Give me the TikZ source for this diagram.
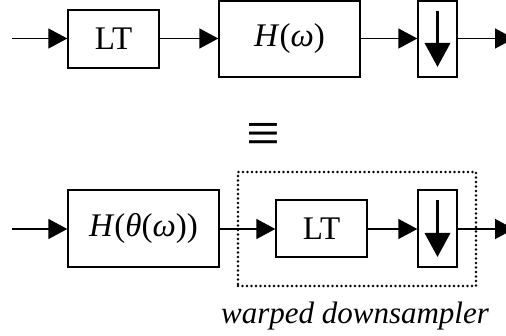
\documentclass[tikz,border=0pt]{standalone}
\usepackage{fontspec}
\setmainfont{Liberation Serif}
\usetikzlibrary{arrows.meta}
\begin{document}
\begin{tikzpicture}[x=1pt,y=-1pt,
  block/.style={draw,line width=1.4pt,inner sep=0pt,
    font=\fontsize{33}{36}\selectfont},
  flow/.style={line width=1.4pt,-{Triangle[length=19pt,width=20pt]}},
  down/.style={line width=3.6pt,-{Triangle[length=24pt,width=25pt]}},
  group/.style={draw,line width=2.6pt,line cap=round,dash pattern=on 0pt off 4.5pt}]
\useasboundingbox (0,0) rectangle (506,336);

% upper chain: LT, filter, downsampler
\coordinate (in1) at (12,38.5);
\node[block,minimum width=91pt,minimum height=58pt] (lt1) at (113.5,39) {LT};
\node[block,minimum width=141pt,minimum height=76pt] (h1) at (289.5,39) {\textit{H}(\textit{ω})};
\node[block,minimum width=39pt,minimum height=76pt] (ds1) at (437.5,39) {};
\coordinate (out1) at (514,38.5);
\coordinate (d1a) at (437.5,11);
\coordinate (d1b) at (437.5,67);
\draw[flow] (in1) -- (lt1.west |- in1);
\draw[flow] (lt1.east |- in1) -- (h1.west |- in1);
\draw[flow] (h1.east |- in1) -- (ds1.west |- in1);
\draw[flow] (ds1.east |- in1) -- (out1);
\draw[down] (d1a) -- (d1b);

% equivalence sign
\node[font=\fontsize{60}{60}\selectfont,inner sep=0pt] (eq) at (263,138.5) {≡};

% lower chain: warped filter, then warped downsampler
\coordinate (in2) at (12,229);
\node[block,minimum width=151pt,minimum height=77pt] (h2) at (143.5,228.5) {\textit{H}(\textit{θ}(\textit{ω}))};
\node[block,minimum width=91pt,minimum height=57pt] (lt2) at (321.5,228.5) {LT};
\node[block,minimum width=39pt,minimum height=77pt] (ds2) at (437.5,228.5) {};
\coordinate (out2) at (514,229);
\coordinate (d2a) at (437.5,200);
\coordinate (d2b) at (437.5,257);
\draw[flow] (in2) -- (h2.west |- in2);
\draw[flow] (h2.east |- in2) -- (lt2.west |- in2);
\draw[flow] (lt2.east |- in2) -- (ds2.west |- in2);
\draw[flow] (ds2.east |- in2) -- (out2);
\draw[down] (d2a) -- (d2b);

% dotted frame round the warped downsampler
\node[group,minimum width=238pt,minimum height=114pt,inner sep=0pt] (wd) at (357,229) {};
\node[font=\fontsize{31}{34}\selectfont\itshape] (wdlabel) at (355,316) {warped downsampler};
\end{tikzpicture}
\end{document}
